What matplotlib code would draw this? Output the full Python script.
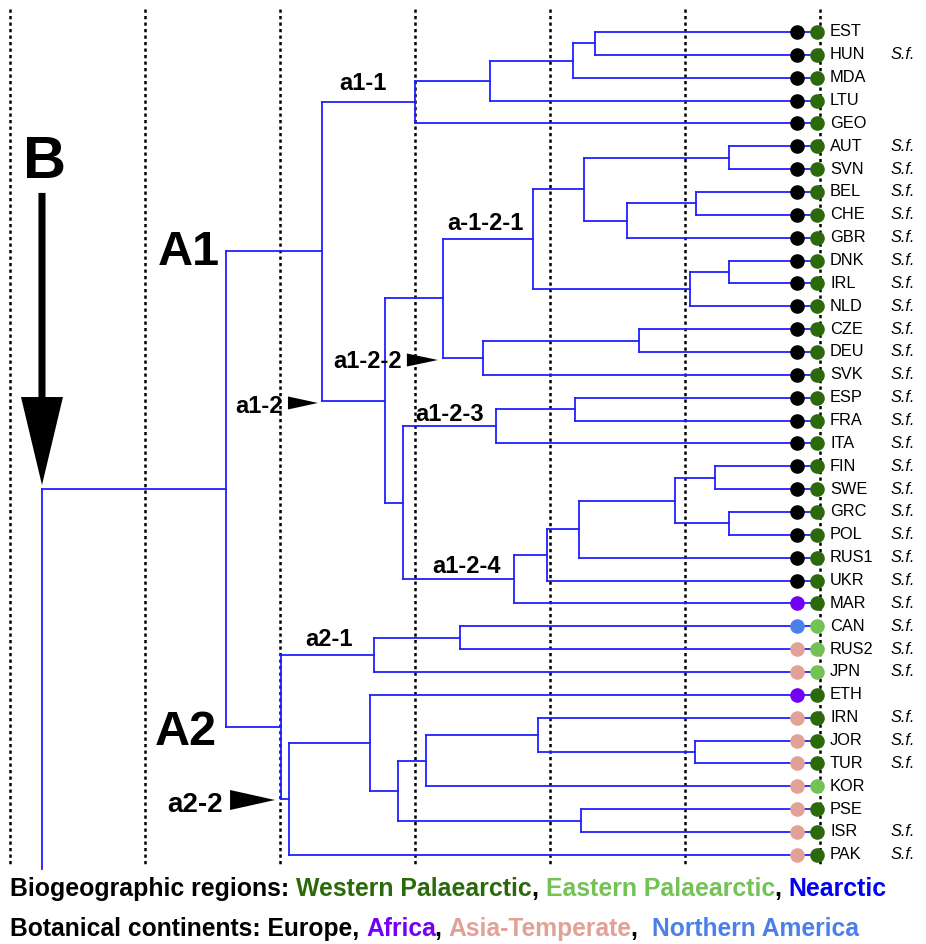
import matplotlib
matplotlib.use("Agg")
import matplotlib.pyplot as plt
from matplotlib.patches import FancyArrow

plt.rcParams['font.family'] = ['Liberation Sans', 'DejaVu Sans']

## Data
# leaves, top to bottom
leaves = ["EST", "HUN", "MDA", "LTU", "GEO", "AUT", "SVN", "BEL", "CHE", "GBR",
          "DNK", "IRL", "NLD", "CZE", "DEU", "SVK", "ESP", "FRA", "ITA", "FIN",
          "SWE", "GRC", "POL", "RUS1", "UKR", "MAR", "CAN", "RUS2", "JPN", "ETH",
          "IRN", "JOR", "TUR", "KOR", "PSE", "ISR", "PAK"]

continent = ["Europe"] * 25 + ["Africa", "Northern America", "Asia-Temperate",
             "Asia-Temperate", "Africa"] + ["Asia-Temperate"] * 7

eastern = ["CAN", "RUS2", "JPN", "KOR"]
region = ["Eastern Palaearctic" if l in eastern else "Western Palaearctic" for l in leaves]

no_sf = ["EST", "MDA", "LTU", "GEO", "ETH", "KOR", "PSE"]
sf = [l not in no_sf for l in leaves]

# clade heights, dotted lines at whole units
tree = (0.237,
        (1.600,
         (2.311,
          (3.000, (3.556, (4.170, (4.333, "EST", "HUN"), "MDA"), "LTU"), "GEO"),
          (2.778,
           (3.207,
            (3.874,
             (4.252, (5.326, "AUT", "SVN"), (4.570, (5.081, "BEL", "CHE"), "GBR")),
             (5.037, (5.326, "DNK", "IRL"), "NLD")),
            (3.504, (4.659, "CZE", "DEU"), "SVK")),
           (2.911,
            (3.600, (4.185, "ESP", "FRA"), "ITA"),
            (3.733,
             (3.978, (4.215, (4.926, (5.222, "FIN", "SWE"), (5.326, "GRC", "POL")), "RUS1"), "UKR"),
             "MAR")))),
         (2.007,
          (2.696, (3.330, "CAN", "RUS2"), "JPN"),
          (2.067,
           (2.667, "ETH",
            (2.874, (3.081, (3.911, "IRN", (5.074, "JOR", "TUR")), "KOR"), (4.230, "PSE", "ISR"))),
           "PAK"))))

continent_colors = {"Europe": "black", "Africa": "#7300f5",
                    "Asia-Temperate": "#e2a196", "Northern America": "#4a80e8"}
region_colors = {"Western Palaearctic": "#2a6a0a", "Eastern Palaearctic": "#74c256",
                 "Nearctic": "#0000f5"}

line1 = [("Biogeographic regions: ", "black"), ("Western Palaearctic", region_colors["Western Palaearctic"]),
         (", ", "black"), ("Eastern Palaearctic", region_colors["Eastern Palaearctic"]),
         (", ", "black"), ("Nearctic", region_colors["Nearctic"])]
line2 = [("Botanical continents: Europe, ", "black"), ("Africa", continent_colors["Africa"]),
         (", ", "black"), ("Asia-Temperate", continent_colors["Asia-Temperate"]),
         (",  ", "black"), ("Northern America", continent_colors["Northern America"])]

BLUE = "#2020ff"
DOT1 = 5.83
DOT2 = 5.98

fig = plt.figure(figsize=(9.26, 9.44), dpi=100)
ax = fig.add_axes([0, 0, 1, 1])
ax.set_xlim(-0.074, 6.785)
ax.set_ylim(39.9, -1.4)
ax.axis("off")

# dotted scale lines
for t in range(7):
    ax.plot([t, t], [-1.0, 36.5], color="black", lw=1.8, linestyle=(0, (1.3, 1.3)), zorder=0)

leaf_y = {l: i for i, l in enumerate(leaves)}


def draw(node):
    if isinstance(node, str):
        return DOT2, leaf_y[node]
    h = node[0]
    ys = []
    for child in node[1:]:
        cx, cy = draw(child)
        ax.plot([h, cx], [cy, cy], color=BLUE, lw=1.3, zorder=1)
        ys.append(cy)
    if len(ys) > 1:
        ax.plot([h, h], [min(ys), max(ys)], color=BLUE, lw=1.3, zorder=1)
    return h, (ys[0] + ys[-1]) / 2


root_x, root_y = draw(tree)
ax.plot([root_x, root_x], [root_y, 36.6], color=BLUE, lw=1.3, zorder=1)

# leaf dots and labels
for i, l in enumerate(leaves):
    ax.plot(DOT1, i, "o", ms=10.5, mfc=continent_colors[continent[i]], mec="none", zorder=3)
    ax.plot(DOT2, i, "o", ms=10.5, mfc=region_colors[region[i]], mec="none", zorder=3)
    ax.text(6.074, i, l, fontsize=11.8, va="center", ha="left")
    if sf[i]:
        ax.text(6.519, i, "S.f.", fontsize=11.8, style="italic", va="center", ha="left")

# big arrow B
ax.add_patch(FancyArrow(root_x, 7.04, 0, 12.78, width=0.052, head_width=0.311,
                        head_length=3.85, length_includes_head=True, color="black", lw=0))
ax.text(0.252, 6.39, "B", fontsize=43, weight="bold", ha="center", va="baseline")

# clade labels
ax.text(1.096, 10.19, "A1", fontsize=35, weight="bold", va="baseline")
ax.text(1.074, 31.19, "A2", fontsize=35, weight="bold", va="baseline")
clade_labels = [("a1-1", 2.437, 2.54, 17), ("a1-2", 1.667, 16.67, 17), ("a1-2-2", 2.393, 14.70, 17),
                ("a-1-2-1", 3.237, 8.66, 17), ("a1-2-3", 3.0, 17.02, 17), ("a1-2-4", 3.126, 23.67, 17),
                ("a2-1", 2.185, 26.86, 17), ("a2-2", 1.163, 34.12, 20)]
for s, x, y, fs in clade_labels:
    ax.text(x, y, s, fontsize=fs, weight="bold", va="baseline")

# small pointers
for tip_x, tip_y, length, height in [(2.281, 16.23, 0.222, 0.57), (3.170, 14.35, 0.23, 0.57),
                                     (1.963, 33.6, 0.333, 0.875)]:
    ax.add_patch(FancyArrow(tip_x - length, tip_y, length, 0, width=0, head_width=height,
                            head_length=length, length_includes_head=True, color="black", lw=0))

# coloured legend lines
renderer = fig.canvas.get_renderer()


def text_width(s, size):
    t = fig.text(0, 0, s, fontsize=size, weight="bold")
    w = t.get_window_extent(renderer).width
    t.remove()
    return w


def colour_line(parts, x0, y, size):
    prefix = ""
    wx = text_width("X", size)
    for s, c in parts:
        off = text_width(prefix + "X", size) - wx if prefix else 0
        fig.text(x0 + off / fig.bbox.width, y, s, fontsize=size, weight="bold", color=c,
                 ha="left", va="baseline")
        prefix += s


colour_line(line1, 10 / 926, 1 - 896 / 944, 17.9)
colour_line(line2, 10 / 926, 1 - 936 / 944, 17.7)

fig.savefig("out.png", dpi=100)
